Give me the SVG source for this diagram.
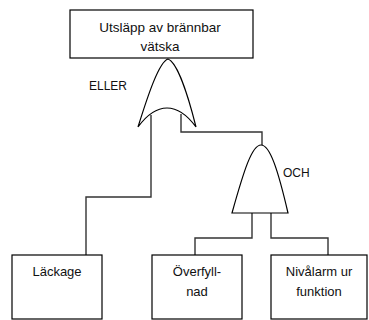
<svg xmlns="http://www.w3.org/2000/svg" width="369" height="320" viewBox="0 0 369 320">
<style>
.box{fill:#fff;stroke:#000;stroke-width:1.2}
.gate{fill:#fff;stroke:#000;stroke-width:1.2}
.wire{fill:none;stroke:#333;stroke-width:1.4}
text{font-family:"Liberation Sans",Arial,sans-serif;font-size:13px;fill:#111}
.c{text-anchor:middle}
.lbl{font-size:12px}
</style>
<rect width="369" height="320" fill="#fff"/>
<g id="connectors">
<path class="wire" d="M151,115 V197 H86 V255"/>
<path class="wire" d="M181,114 V132 H262 V146"/>
<path class="wire" d="M252,213 V238 H195 V255"/>
<path class="wire" d="M271,213 V238 H328 V255"/>
</g>
<g id="top">
<rect class="box" x="70" y="10" width="183" height="48"/>
<text class="c" x="160" y="32" style="font-size:13.5px">Utsläpp av brännbar</text>
<text class="c" x="160" y="51" style="font-size:13.5px">vätska</text>
</g>
<g id="or-gate">
<path class="gate" d="M138,127 C148,95 159,62 168,59 C177,62 188,95 196,127 C185,112 176,108 167,108 C159,108 149,112 138,127 Z"/>
<text class="lbl" x="89" y="90">ELLER</text>
</g>
<g id="and-gate">
<path class="gate" d="M232,213 C244,170 252,145 261,145 C270,145 278,170 288,213 Z"/>
<text class="lbl" x="283" y="177">OCH</text>
</g>
<g id="lackage">
<rect class="box" x="12" y="255" width="90" height="64"/>
<text class="c" x="57" y="276">Läckage</text>
</g>
<g id="overfyllnad">
<rect class="box" x="152" y="255" width="90" height="64"/>
<text class="c" x="197" y="276">Överfyll-</text>
<text class="c" x="197" y="296">nad</text>
</g>
<g id="nivalarm">
<rect class="box" x="271" y="255" width="96" height="64"/>
<text class="c" x="319" y="276">Nivålarm ur</text>
<text class="c" x="319" y="296">funktion</text>
</g>
</svg>
